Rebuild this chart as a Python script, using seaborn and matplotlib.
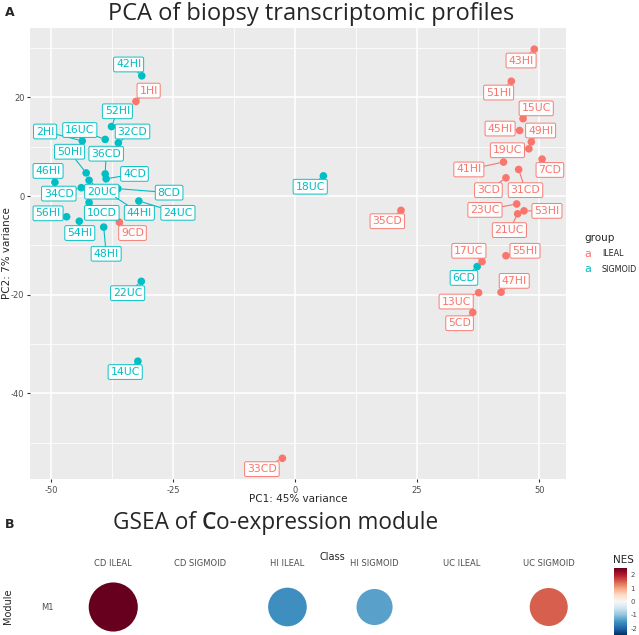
import numpy as np
import pandas as pd
import seaborn as sns
import matplotlib
matplotlib.use("Agg")
import matplotlib.pyplot as plt
from matplotlib.colors import Normalize
from matplotlib.cm import ScalarMappable

# PCA data
samples = ['42HI', '52HI', '2HI', '16UC', '32CD', '50HI', '36CD', '4CD', '46HI', '34CD', '20UC',
           '8CD', '56HI', '10CD', '44HI', '24UC', '54HI', '48HI', '22UC', '14UC', '18UC', '6CD',
           '1HI', '9CD', '43HI', '51HI', '15UC', '45HI', '49HI', '19UC', '7CD', '41HI', '31CD',
           '3CD', '23UC', '53HI', '21UC', '35CD', '17UC', '55HI', '47HI', '13UC', '5CD', '33CD']
pc1 = [-31.4, -37.6, -43.6, -38.9, -36.2, -42.8, -38.9, -38.7, -49.2, -43.8, -42.2,
       -36.3, -46.8, -42.2, -37.5, -32.0, -44.2, -39.2, -31.5, -32.2, 5.8, 37.3,
       -32.6, -36.0, 49.0, 44.3, 46.7, 46.0, 48.4, 47.9, 50.6, 42.7, 45.8,
       43.2, 45.4, 46.9, 45.6, 21.7, 38.3, 43.2, 42.2, 37.6, 36.4, -2.6]
pc2 = [24.4, 14.1, 11.2, 11.5, 10.8, 4.7, 4.5, 3.5, 2.8, 1.7, 3.2,
       1.5, -4.2, -1.3, 0.2, -1.0, -5.1, -6.3, -17.3, -33.5, 4.1, -14.3,
       19.2, -5.3, 29.8, 23.3, 15.7, 13.3, 11.0, 9.6, 7.5, 6.9, 5.4,
       3.7, -1.6, -3.0, -3.6, -2.9, -13.3, -12.1, -19.5, -19.6, -23.6, -53.2]
groups = ['SIGMOID'] * 22 + ['ILEAL'] * 22

# label placement (repel-like offsets, data units)
label_dx = [-2.7, 1.2, -7.6, -5.2, 2.9, -3.4, 0.2, 5.8, -1.4, -4.6, 2.6,
            10.5, -3.8, 2.6, 5.6, 8.0, 0.1, 0.5, -2.8, -2.6, -2.7, -2.7,
            2.6, 2.7, -2.7, -2.6, 2.7, -4.0, 1.9, -4.4, 1.6, -7.1, 1.4,
            -3.6, -6.5, 4.7, -1.7, -2.8, -2.7, 3.9, 2.7, -4.6, -2.7, -4.2]
label_dy = [2.3, 3.1, 1.9, 1.9, 2.3, 4.3, 4.1, 1.0, 2.3, -1.2, -2.3,
            -0.8, 0.7, -2.1, -3.6, -2.4, -2.4, -5.4, -2.4, -2.2, -2.2, -2.3,
            2.2, -2.2, -2.3, -2.3, 2.1, 0.4, 2.3, -0.3, -2.2, -1.5, -4.2,
            -2.5, -1.2, 0.0, -3.3, -2.2, 2.2, 1.0, 2.3, -1.8, -2.2, -2.2]

# GSEA data
classes = ['CD ILEAL', 'CD SIGMOID', 'HI ILEAL', 'HI SIGMOID', 'UC ILEAL', 'UC SIGMOID']
gsea_class = ['CD ILEAL', 'HI ILEAL', 'HI SIGMOID', 'UC SIGMOID']
gsea_module = ['M1', 'M1', 'M1', 'M1']
gsea_nes = [2.5, -1.55, -1.35, 1.5]

palette = {'ILEAL': '#F8766D', 'SIGMOID': '#00BFC4'}

sns.set_style("darkgrid", {"axes.facecolor": "#EBEBEB", "grid.color": "white"})
plt.rcParams['font.family'] = ['DejaVu Sans']
plt.rcParams['axes.unicode_minus'] = False

W, H = 639, 635
fig = plt.figure(figsize=(W / 100, H / 100), dpi=100)

# ---- panel A ----
ax = fig.add_axes([30 / W, 1 - 479 / H, 536 / W, 451 / H])
df = pd.DataFrame({'sample': samples, 'PC1': pc1, 'PC2': pc2, 'group': groups})
sns.scatterplot(data=df, x='PC1', y='PC2', hue='group', palette=palette, s=30,
                linewidth=0, legend=False, ax=ax, zorder=2)

for i, row in df.iterrows():
    c = palette[row['group']]
    ax.annotate(row['sample'], xy=(row['PC1'], row['PC2']),
                xytext=(row['PC1'] + label_dx[i], row['PC2'] + label_dy[i]),
                textcoords='data', ha='center', va='center', fontsize=7.8, color=c,
                bbox=dict(boxstyle='round,pad=0.22,rounding_size=0.15', fc='white',
                          ec=c, lw=0.7, alpha=0.95),
                arrowprops=dict(arrowstyle='-', color=c, lw=0.8, shrinkA=0, shrinkB=3),
                zorder=3)

ax.set_xlim(-54.3, 55.5)
ax.set_ylim(-57.4, 34.1)
ax.set_xticks([-50, -25, 0, 25, 50])
ax.set_yticks([-40, -20, 0, 20])
ax.set_xticks([-37.5, -12.5, 12.5, 37.5], minor=True)
ax.set_yticks([-50, -30, -10, 10, 30], minor=True)
ax.grid(which='major', color='white', lw=1.1)
ax.grid(which='minor', color='white', lw=0.55)
ax.tick_params(which='major', labelsize=6, labelcolor='#4D4D4D', length=2.5,
               color='#333333', pad=1.5, bottom=True, left=True)
ax.tick_params(axis='x', which='major', pad=2.5)
ax.tick_params(which='minor', length=0)
for s in ax.spines.values():
    s.set_visible(False)
ax.set_xlabel('')
ax.set_ylabel('')
fig.text(298 / W, 1 - 499 / H, 'PC1: 45% variance', ha='center', va='center', fontsize=7.5)
fig.text(7 / W, 1 - 253 / H, 'PC2: 7% variance', ha='center', va='center',
         rotation=90, fontsize=7.5)

fig.text(5 / W, 1 - 12 / H, 'A', fontsize=9, fontweight='bold', va='center')
fig.text(311 / W, 1 - 14 / H, 'PCA of biopsy transcriptomic profiles', ha='center',
         va='center', fontsize=17, family='Open Sans')

# legend
fig.text(584 / W, 1 - 238 / H, 'group', fontsize=7.5, va='center')
fig.text(588 / W, 1 - 254 / H, 'a', fontsize=8, color=palette['ILEAL'], va='center', ha='center')
fig.text(588 / W, 1 - 269 / H, 'a', fontsize=8, color=palette['SIGMOID'], va='center', ha='center')
fig.text(602 / W, 1 - 254 / H, 'ILEAL', fontsize=5.8, va='center')
fig.text(602 / W, 1 - 269 / H, 'SIGMOID', fontsize=5.8, va='center')

# ---- panel B ----
fig.text(5 / W, 1 - 525 / H, 'B', fontsize=9, fontweight='bold', va='center')
t1 = fig.text(113 / W, 1 - 523 / H, 'GSEA of ', va='center', fontsize=16.3, family='Open Sans')
t2 = fig.add_artist(matplotlib.text.Annotation('C', xy=(1, 0.5), xycoords=t1, va='center',
                                                fontsize=16.3, family='Open Sans',
                                                fontweight='semibold'))
fig.add_artist(matplotlib.text.Annotation('o-expression module', xy=(1, 0.5), xycoords=t2,
                                          va='center', fontsize=16.3, family='Open Sans'))

bx = fig.add_axes([61 / W, 1 - 636 / H, 540 / W, 58 / H])
bx.set_facecolor('white')
norm = Normalize(-2.5, 2.5)
gdf = pd.DataFrame({'Class': [classes.index(c) for c in gsea_class],
                    'Module': [0] * len(gsea_module), 'NES': gsea_nes,
                    'absNES': np.abs(gsea_nes)})
sns.scatterplot(data=gdf, x='Class', y='Module', hue='NES', palette='RdBu_r', hue_norm=norm,
                size='absNES', sizes=(0, 1250), size_norm=(0, 2.5), linewidth=0,
                legend=False, ax=bx)
bx.set_xlim(-0.6, 5.6)
bx.set_ylim(-0.5, 0.5)
bx.grid(False)
for s in bx.spines.values():
    s.set_visible(False)
bx.xaxis.tick_top()
bx.set_xticks(range(len(classes)))
bx.set_xticklabels(classes)
bx.set_yticks([0])
bx.set_yticklabels([gsea_module[0]])
bx.tick_params(axis='x', length=0, labelsize=6, labelcolor='#4D4D4D', pad=7)
bx.tick_params(axis='y', length=0, labelsize=6, labelcolor='#4D4D4D', pad=5)
bx.set_xlabel('')
bx.set_ylabel('')
fig.text(332 / W, 1 - 557 / H, 'Class', ha='center', va='center', fontsize=7)
fig.text(8 / W, 1 - 606 / H, 'Module', ha='center', va='center', rotation=90, fontsize=7)

cax = fig.add_axes([614 / W, 1 - 635 / H, 13 / W, 67 / H])
cb = fig.colorbar(ScalarMappable(norm=norm, cmap='RdBu_r'), cax=cax, ticks=[-2, -1, 0, 1, 2])
cb.outline.set_visible(False)
cax.tick_params(length=2, color='white', labelsize=5, labelcolor='#4D4D4D', pad=0.5)
fig.text(613 / W, 1 - 560 / H, 'NES', va='center', fontsize=7.5)

fig.savefig('out.png', dpi=100)
